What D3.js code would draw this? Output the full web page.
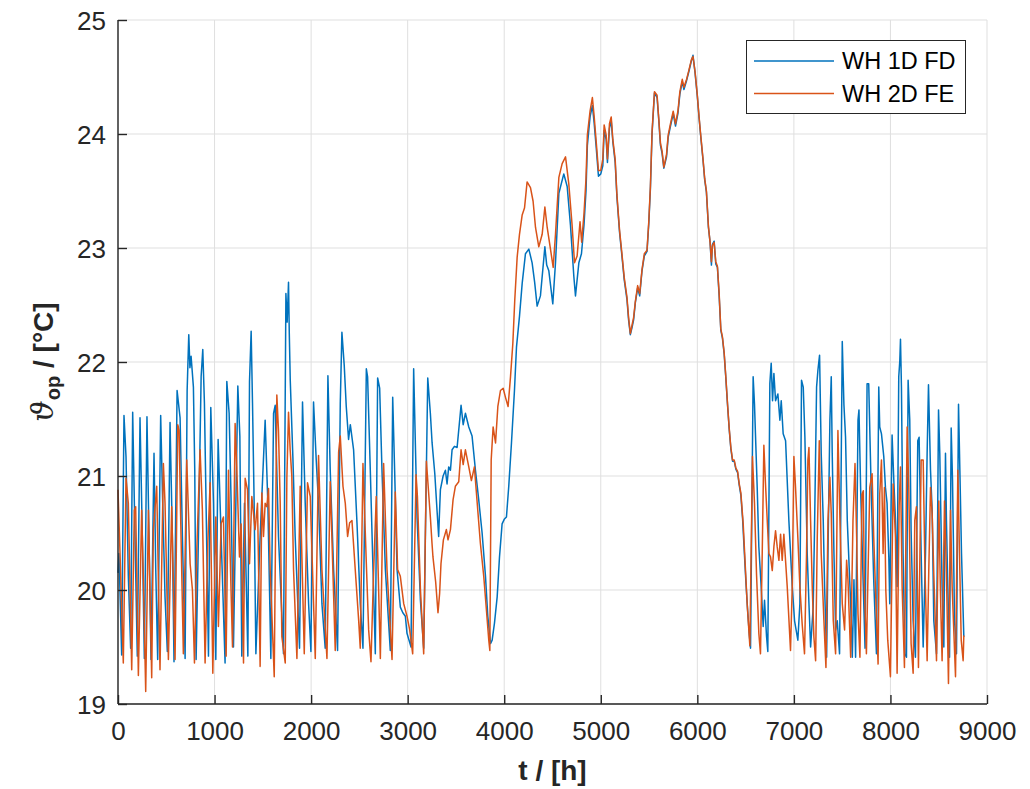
<!DOCTYPE html>
<html>
<head>
<meta charset="utf-8">
<script src="https://cdn.jsdelivr.net/npm/d3@7/dist/d3.min.js"></script>
<style>
  html, body { margin: 0; padding: 0; background: #ffffff; }
  svg { display: block; }
</style>
</head>
<body>
<svg id="chart" width="1030" height="789"></svg>
<script>
// ---------- DATA ----------
const seriesNames = ["WH 1D FD", "WH 2D FE"];
const xTicks = [0, 1000, 2000, 3000, 4000, 5000, 6000, 7000, 8000, 9000];
const yTicks = [19, 20, 21, 22, 23, 24, 25];

// [t in h, operative temperature in °C]
const wh1dFD = [[0,20.15],[10,20.32],[38,19.43],[62,21.53],[83,21.17],[107,20.12],[131,19.49],[152,21.56],[176,20.47],[200,19.42],[228,21.51],[252,20.47],[273,19.4],[300,21.52],[321,20.47],[342,19.39],[373,21.2],[391,20.18],[411,19.39],[442,21.53],[463,20.76],[487,19.94],[511,19.46],[539,21.47],[563,20.47],[580,19.37],[612,21.75],[643,21.51],[667,20.47],[695,19.4],[716,21.75],[733,22.24],[745,21.95],[757,22.05],[781,21.78],[795,21.05],[809,19.39],[833,20.47],[861,21.87],[878,22.11],[895,21.64],[912,20.76],[937,19.42],[961,21.6],[989,20.76],[1013,19.39],[1037,21.32],[1068,20.47],[1109,19.36],[1127,21.83],[1151,21.55],[1172,20.76],[1196,19.5],[1241,21.79],[1262,21.35],[1282,19.42],[1310,20.76],[1345,19.42],[1362,21.83],[1379,22.27],[1393,21.64],[1410,20.76],[1428,19.44],[1472,20.47],[1524,21.49],[1552,20.76],[1583,19.4],[1611,21.55],[1628,21.62],[1662,20.47],[1714,19.44],[1739,22.6],[1752,22.35],[1766,22.7],[1774,22.25],[1784,21.84],[1811,21.17],[1835,20.47],[1880,19.49],[1911,21.65],[1939,20.76],[1974,19.88],[1998,19.46],[2025,21.65],[2053,21.14],[2077,20.76],[2112,19.88],[2146,19.49],[2174,21.88],[2198,21.05],[2233,20.18],[2274,19.47],[2302,21.64],[2319,22.26],[2343,21.97],[2364,21.61],[2388,21.32],[2406,21.45],[2440,21.23],[2475,20.59],[2509,19.88],[2537,19.49],[2572,21.94],[2585,21.87],[2613,21.05],[2641,20.18],[2665,19.44],[2689,21.86],[2710,21.77],[2734,21.05],[2769,20.18],[2820,19.47],[2845,21.69],[2865,21.05],[2890,20.18],[2924,19.85],[2950,19.8],[2976,19.77],[2993,19.62],[3035,19.5],[3062,21.94],[3097,20.64],[3132,19.91],[3166,19.49],[3208,21.86],[3235,21.55],[3253,21.29],[3281,21.02],[3304,20.7],[3321,20.47],[3328,20.64],[3339,20.88],[3367,21.0],[3391,21.05],[3408,20.93],[3425,21.08],[3443,21.05],[3460,21.23],[3484,21.26],[3512,21.25],[3553,21.62],[3575,21.45],[3598,21.55],[3633,21.43],[3667,21.35],[3702,21.05],[3736,20.79],[3771,20.5],[3806,20.12],[3830,19.77],[3858,19.53],[3875,19.56],[3899,19.71],[3927,19.94],[3951,20.29],[3978,20.58],[4000,20.62],[4023,20.64],[4047,20.91],[4075,21.29],[4106,21.75],[4127,22.13],[4158,22.4],[4186,22.69],[4220,22.95],[4255,22.99],[4289,22.87],[4315,22.7],[4341,22.49],[4375,22.58],[4421,23.01],[4440,22.85],[4462,22.8],[4503,22.51],[4531,22.87],[4566,23.48],[4617,23.65],[4652,23.54],[4686,23.2],[4721,22.75],[4738,22.58],[4773,22.87],[4800,22.95],[4826,23.2],[4847,23.5],[4861,23.9],[4889,24.15],[4913,24.25],[4931,24.1],[4951,23.9],[4976,23.63],[5000,23.65],[5021,23.72],[5035,24.03],[5056,23.95],[5069,23.75],[5090,24.05],[5108,24.12],[5125,23.93],[5149,23.75],[5167,23.45],[5194,23.14],[5219,22.93],[5243,22.72],[5271,22.55],[5288,22.37],[5306,22.24],[5323,22.3],[5340,22.37],[5358,22.52],[5382,22.65],[5403,22.58],[5427,22.8],[5451,22.93],[5479,22.97],[5497,23.21],[5514,23.52],[5531,24.0],[5556,24.36],[5583,24.32],[5601,24.12],[5618,23.9],[5635,23.83],[5653,23.7],[5681,23.8],[5698,23.97],[5722,24.07],[5750,24.18],[5774,24.07],[5799,24.18],[5819,24.35],[5844,24.46],[5861,24.39],[5889,24.47],[5913,24.55],[5938,24.64],[5955,24.69],[5976,24.54],[6000,24.33],[6017,24.15],[6035,23.98],[6059,23.77],[6076,23.6],[6094,23.49],[6115,23.18],[6132,23.05],[6146,22.85],[6156,23.03],[6174,23.06],[6191,22.86],[6208,22.83],[6226,22.58],[6243,22.28],[6260,22.21],[6278,22.07],[6295,21.86],[6313,21.62],[6330,21.41],[6347,21.24],[6365,21.13],[6382,21.13],[6399,21.06],[6417,21.03],[6434,20.92],[6451,20.83],[6469,20.62],[6486,20.34],[6503,20.07],[6521,19.82],[6538,19.61],[6551,19.49],[6578,21.87],[6592,21.63],[6620,20.9],[6637,20.38],[6661,20.03],[6682,19.68],[6696,19.91],[6717,19.59],[6730,19.46],[6751,21.81],[6765,21.99],[6779,21.66],[6793,21.9],[6810,21.66],[6834,21.72],[6855,21.49],[6869,21.66],[6889,21.37],[6914,21.31],[6948,20.61],[6983,20.03],[7007,19.73],[7041,19.56],[7062,19.88],[7079,21.84],[7097,21.78],[7114,21.34],[7138,20.32],[7156,19.88],[7173,19.5],[7200,19.85],[7214,20.55],[7235,21.78],[7249,21.93],[7266,22.06],[7283,21.2],[7304,20.61],[7318,20.03],[7339,19.41],[7353,20.32],[7373,21.49],[7387,21.87],[7397,21.2],[7415,20.32],[7432,19.65],[7449,19.73],[7473,19.44],[7501,22.18],[7518,21.63],[7535,21.34],[7553,20.61],[7588,19.88],[7605,19.41],[7622,20.09],[7639,19.41],[7664,21.49],[7674,21.58],[7691,20.9],[7717,20.08],[7737,19.49],[7758,21.81],[7775,21.81],[7800,20.9],[7827,20.08],[7855,19.44],[7879,21.78],[7889,21.43],[7907,21.37],[7931,21.17],[7948,20.9],[7965,20.76],[7983,20.29],[7993,19.88],[8017,21.36],[8035,20.96],[8052,20.61],[8069,20.03],[8086,21.87],[8097,22.01],[8104,22.2],[8114,21.78],[8131,20.32],[8149,19.44],[8166,19.41],[8183,21.84],[8200,21.49],[8214,20.52],[8235,19.73],[8259,19.41],[8283,21.31],[8297,21.34],[8318,20.32],[8339,19.5],[8363,20.32],[8380,21.2],[8394,21.8],[8415,21.05],[8432,20.7],[8449,19.73],[8477,19.44],[8498,21.58],[8511,21.2],[8535,20.03],[8553,19.5],[8570,21.2],[8580,20.61],[8594,20.03],[8612,19.41],[8629,21.42],[8643,20.96],[8664,19.73],[8684,19.44],[8705,21.63],[8719,21.05],[8736,20.32],[8760,19.59]];

const wh2dFE = [[0,20.88],[21,20.32],[55,19.36],[83,20.98],[107,20.76],[142,19.3],[169,20.7],[183,20.73],[211,19.25],[245,20.7],[263,20.09],[287,19.11],[315,20.7],[349,19.23],[366,20.53],[401,20.91],[435,19.3],[470,21.11],[487,20.76],[522,19.39],[556,20.73],[591,19.39],[619,21.45],[633,21.4],[646,20.76],[677,19.44],[712,21.14],[747,20.23],[771,20.0],[792,19.36],[816,20.35],[850,21.23],[874,20.7],[902,19.36],[930,20.41],[954,20.94],[982,19.27],[1013,20.64],[1040,19.68],[1068,20.58],[1092,20.64],[1120,19.42],[1144,21.05],[1161,20.32],[1186,19.5],[1213,21.46],[1230,21.08],[1258,20.29],[1275,20.58],[1300,19.36],[1317,20.98],[1341,20.88],[1362,20.23],[1386,20.82],[1420,20.53],[1445,20.76],[1472,19.33],[1490,20.85],[1507,20.47],[1524,20.76],[1541,20.73],[1559,20.89],[1576,20.18],[1618,19.24],[1645,21.71],[1662,21.4],[1680,20.76],[1697,19.59],[1732,19.36],[1749,20.99],[1766,21.56],[1783,21.23],[1800,21.0],[1818,20.18],[1853,19.4],[1887,20.91],[1929,19.44],[1963,20.94],[1991,20.82],[2043,19.4],[2077,21.18],[2112,20.18],[2164,19.4],[2198,20.95],[2250,19.47],[2285,21.21],[2302,21.35],[2330,20.91],[2354,20.76],[2378,20.47],[2399,20.59],[2423,20.61],[2457,20.18],[2492,19.74],[2509,19.49],[2537,21.11],[2572,20.23],[2596,19.65],[2620,19.37],[2648,20.18],[2675,20.82],[2717,19.4],[2751,21.11],[2786,20.18],[2838,19.39],[2872,20.86],[2896,20.18],[2924,20.12],[2959,19.88],[2993,19.77],[3021,19.65],[3052,19.44],[3087,21.01],[3101,20.82],[3132,20.01],[3166,19.44],[3194,21.13],[3235,20.64],[3252,20.41],[3262,20.29],[3290,20.07],[3314,19.8],[3331,19.97],[3345,20.23],[3370,20.44],[3401,20.53],[3418,20.44],[3443,20.53],[3470,20.79],[3494,20.91],[3529,20.95],[3553,21.23],[3575,21.1],[3598,21.23],[3633,21.08],[3660,20.96],[3691,21.08],[3726,20.7],[3753,20.41],[3788,20.12],[3816,19.82],[3840,19.56],[3851,19.47],[3865,21.14],[3885,21.43],[3910,21.29],[3934,21.61],[3961,21.75],[3989,21.77],[4013,21.69],[4040,21.61],[4065,21.87],[4089,22.16],[4109,22.54],[4134,22.92],[4158,23.12],[4186,23.29],[4210,23.35],[4237,23.58],[4272,23.53],[4299,23.41],[4324,23.18],[4358,23.01],[4393,23.12],[4421,23.36],[4445,23.18],[4479,22.99],[4507,22.83],[4531,23.12],[4566,23.62],[4600,23.74],[4635,23.8],[4669,23.56],[4703,23.2],[4728,22.87],[4755,22.93],[4785,23.23],[4802,23.05],[4826,23.3],[4847,23.61],[4861,23.99],[4889,24.2],[4913,24.32],[4931,24.16],[4951,23.95],[4976,23.68],[5000,23.68],[5021,23.78],[5035,24.08],[5056,23.99],[5069,23.78],[5090,24.09],[5108,24.15],[5125,23.95],[5149,23.78],[5167,23.47],[5194,23.16],[5219,22.95],[5243,22.74],[5271,22.57],[5288,22.39],[5306,22.25],[5323,22.32],[5340,22.39],[5358,22.53],[5382,22.67],[5403,22.6],[5427,22.81],[5451,22.95],[5479,22.98],[5497,23.23],[5514,23.54],[5531,24.02],[5556,24.37],[5583,24.34],[5601,24.13],[5618,23.92],[5635,23.85],[5653,23.71],[5681,23.82],[5698,23.99],[5722,24.09],[5750,24.2],[5774,24.09],[5799,24.2],[5819,24.37],[5844,24.48],[5861,24.41],[5889,24.48],[5913,24.56],[5938,24.65],[5955,24.68],[5976,24.55],[6000,24.34],[6017,24.16],[6035,23.99],[6059,23.78],[6076,23.61],[6094,23.5],[6115,23.19],[6132,23.05],[6146,22.88],[6156,23.02],[6174,23.05],[6191,22.88],[6208,22.84],[6226,22.6],[6243,22.29],[6260,22.22],[6278,22.08],[6295,21.87],[6313,21.63],[6330,21.42],[6347,21.25],[6365,21.14],[6382,21.14],[6399,21.07],[6417,21.04],[6434,20.93],[6451,20.85],[6475,20.58],[6516,19.88],[6544,19.51],[6571,21.17],[6592,20.76],[6613,20.14],[6637,19.62],[6654,19.44],[6672,20.32],[6689,21.27],[6706,20.93],[6724,20.61],[6741,20.32],[6758,20.29],[6776,20.17],[6793,20.38],[6810,20.52],[6827,20.38],[6845,20.26],[6862,20.49],[6879,20.26],[6896,20.49],[6931,20.03],[6965,19.47],[6983,20.03],[7000,21.17],[7017,20.9],[7041,20.46],[7062,20.03],[7086,19.7],[7110,19.44],[7131,20.32],[7145,21.14],[7156,21.25],[7173,20.61],[7190,20.03],[7207,19.59],[7225,19.38],[7242,20.46],[7263,21.31],[7283,20.32],[7311,19.73],[7332,19.32],[7353,20.61],[7373,20.99],[7387,20.67],[7408,19.73],[7432,19.44],[7456,21.4],[7477,20.61],[7501,19.88],[7525,19.65],[7546,20.26],[7560,20.09],[7588,19.41],[7612,20.61],[7633,21.11],[7650,20.46],[7664,19.79],[7684,19.41],[7705,20.84],[7719,20.87],[7730,20.03],[7751,19.44],[7765,20.03],[7786,20.9],[7810,21.02],[7827,20.46],[7844,20.03],[7872,19.35],[7889,20.84],[7907,21.14],[7924,20.32],[7938,20.9],[7952,20.0],[7972,19.56],[8000,19.24],[8028,20.93],[8052,20.46],[8069,19.27],[8090,20.73],[8104,21.08],[8121,20.03],[8145,19.32],[8173,21.43],[8190,20.9],[8214,19.53],[8235,19.27],[8252,20.61],[8269,20.73],[8290,19.32],[8318,21.14],[8339,21.14],[8356,20.26],[8380,19.38],[8397,20.17],[8415,20.9],[8432,20.67],[8449,20.14],[8477,19.38],[8501,20.78],[8518,19.97],[8535,19.38],[8560,20.78],[8580,20.14],[8601,19.18],[8622,20.7],[8639,20.03],[8674,19.24],[8698,21.05],[8715,20.32],[8733,19.56],[8753,19.38],[8760,19.6]];

const seriesData = [wh1dFD, wh2dFE];
const seriesColors = ["#0072BD", "#D95319"];

// ---------- LAYOUT ----------
const svg = d3.select("#chart");
const pLeft = 118, pRight = 987, pTop = 20, pBottom = 704;
const axisColor = "#262626";
const fontSans = "'Liberation Sans', Arial, Helvetica, sans-serif";

const x = d3.scaleLinear().domain([0, 9000]).range([pLeft, pRight]);
const y = d3.scaleLinear().domain([19, 25]).range([pBottom, pTop]);

// grid
const grid = svg.append("g");
grid.selectAll("line.vg").data(xTicks).enter().append("line")
  .attr("x1", d => x(d)).attr("x2", d => x(d))
  .attr("y1", pTop).attr("y2", pBottom)
  .attr("stroke", "#dfdfdf").attr("stroke-width", 1);
grid.selectAll("line.hg").data(yTicks).enter().append("line")
  .attr("x1", pLeft).attr("x2", pRight)
  .attr("y1", d => y(d)).attr("y2", d => y(d))
  .attr("stroke", "#dfdfdf").attr("stroke-width", 1);

// lines
const line = d3.line().x(d => x(d[0])).y(d => y(d[1]));
const plot = svg.append("g");
seriesData.forEach((s, i) => {
  plot.append("path").datum(s)
    .attr("d", line)
    .attr("fill", "none")
    .attr("stroke", seriesColors[i])
    .attr("stroke-width", 1.5)
    .attr("stroke-linejoin", "round");
});

// axes (MATLAB-style inward ticks)
const xAxis = d3.axisBottom(x).tickValues(xTicks).tickSize(-9).tickFormat(d3.format("d"));
const yAxis = d3.axisLeft(y).tickValues(yTicks).tickSize(-9).tickFormat(d3.format("d"));

const gx = svg.append("g").attr("transform", `translate(0,${pBottom})`).call(xAxis);
const gy = svg.append("g").attr("transform", `translate(${pLeft},0)`).call(yAxis);
[gx, gy].forEach(g => {
  g.select(".domain").attr("stroke", axisColor).attr("stroke-width", 1.4);
  g.selectAll(".tick line").attr("stroke", axisColor).attr("stroke-width", 1.4);
  g.selectAll(".tick text").attr("fill", axisColor)
    .style("font-family", fontSans).style("font-size", "26px");
});
gx.selectAll(".tick text").attr("y", 18).attr("dy", "0.71em");
gy.selectAll(".tick text").attr("x", -12).attr("dy", "0.35em");
gx.select(".domain").attr("d", `M${pLeft},0H${pRight}`);
gy.select(".domain").attr("d", `M0,${pBottom}V${pTop}`);

// axis labels
svg.append("text")
  .attr("x", (pLeft + pRight) / 2).attr("y", 780)
  .attr("text-anchor", "middle")
  .attr("fill", axisColor)
  .style("font-family", fontSans).style("font-size", "28px").style("font-weight", "bold")
  .text("t / [h]");

const yl = svg.append("text")
  .attr("transform", `translate(53,${(pTop + pBottom) / 2}) rotate(-90)`)
  .attr("text-anchor", "middle")
  .attr("fill", axisColor)
  .style("font-family", fontSans).style("font-size", "28px").style("font-weight", "bold");
yl.append("tspan").text("\u03D1")
  .style("font-family", "'DejaVu Serif', 'Liberation Serif', serif")
  .style("font-style", "italic").style("font-weight", "normal").style("font-size", "30px");
yl.append("tspan").text("op").attr("dy", 7).style("font-size", "20px");
yl.append("tspan").text(" / [°C]").attr("dy", -7);

// legend
const lg = svg.append("g");
lg.append("rect")
  .attr("x", 746.5).attr("y", 40.5).attr("width", 219).attr("height", 73)
  .attr("fill", "#ffffff").attr("stroke", axisColor).attr("stroke-width", 1);
seriesNames.forEach((name, i) => {
  const ly = 61 + i * 32.5;
  lg.append("line")
    .attr("x1", 754).attr("x2", 834).attr("y1", ly).attr("y2", ly)
    .attr("stroke", seriesColors[i]).attr("stroke-width", 1.4);
  lg.append("text")
    .attr("x", 842).attr("y", ly).attr("dy", "0.36em")
    .attr("fill", "#000000")
    .style("font-family", fontSans).style("font-size", "23.5px")
    .text(name);
});
</script>
</body>
</html>
